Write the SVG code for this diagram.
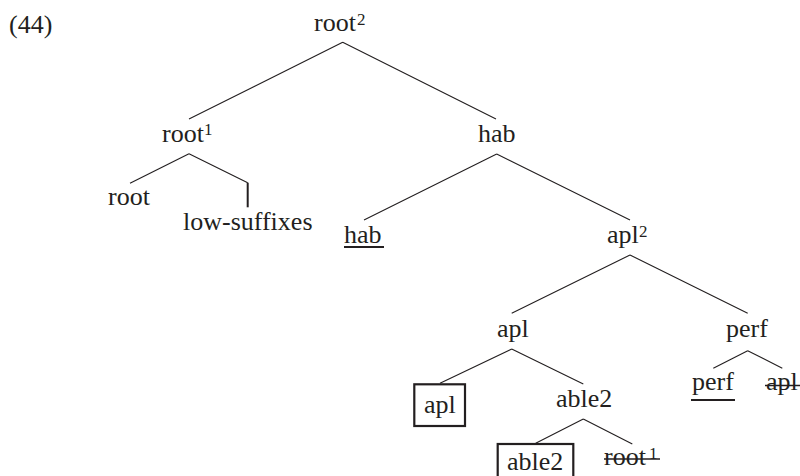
<svg xmlns="http://www.w3.org/2000/svg" width="800" height="476" viewBox="0 0 800 476">
<style>
text{font-family:"Liberation Serif","Times New Roman",serif;font-size:26px;fill:#231f20}
.sup{font-size:17px}
.e{stroke:#231f20;stroke-width:1.1;fill:none}
.deco{stroke:#231f20;stroke-width:2;fill:none}
.box{stroke:#231f20;stroke-width:2.2;fill:none}
</style>
<rect width="800" height="476" fill="#fff"/>
<text id="ex" x="9" y="32.5">(44)</text>
<g id="connectors">
<path class="e" d="M342.7,42.3L189,119M342.7,42.3L496,119"/>
<path class="e" d="M189,153.7L130,183.3M189,153.7L247.7,182.7"/>
<path class="deco" d="M247.7,182.7V207.3"/>
<path class="e" d="M496.7,154L364,220M496.7,154L630,220"/>
<path class="e" d="M630,255L511.7,313.3M630,255L747.7,313.3"/>
<path class="e" d="M511.7,349L440,383.3M511.7,349L583.3,384"/>
<path class="e" d="M747.7,350.7L713.3,368.3M747.7,350.7L782.3,368.3"/>
<path class="e" d="M583.3,419L535.7,443.3M583.3,419L632.3,444"/>
</g>
<g id="n-root2"><text x="314" y="31">root</text><text class="sup" x="357" y="24.5">2</text></g>
<g id="n-root1"><text x="162" y="142">root</text><text class="sup" x="204" y="135">1</text></g>
<g id="n-root"><text x="108" y="205">root</text></g>
<g id="n-low"><text x="183" y="230">low-suffixes</text></g>
<g id="n-hab"><text x="478" y="142">hab</text></g>
<g id="n-hab-leaf"><text x="344" y="243">hab</text><path class="deco" d="M344,247H384"/></g>
<g id="n-apl2"><text x="607" y="243">apl</text><text class="sup" x="639" y="237">2</text></g>
<g id="n-apl"><text x="497" y="337">apl</text></g>
<g id="n-perf"><text x="726" y="337">perf</text></g>
<g id="n-apl-box"><rect class="box" x="414.3" y="384.3" width="50.7" height="41.7"/><text x="424" y="413">apl</text></g>
<g id="n-able2"><text x="556" y="407">able2</text></g>
<g id="n-perf-leaf"><text x="692" y="390">perf</text><path class="deco" d="M691,400H735"/></g>
<g id="n-apl-struck"><text x="766" y="390">apl</text><path class="e" style="stroke-width:1.6" d="M765,385.5H800"/></g>
<g id="n-able2-box"><rect class="box" x="497.7" y="444" width="75.6" height="40"/><text x="507" y="470">able2</text></g>
<g id="n-root1-struck"><text x="604" y="465">root</text><text class="sup" x="649" y="459">1</text><path class="e" d="M604,459H660" style="stroke-width:1.6"/></g>
</svg>
